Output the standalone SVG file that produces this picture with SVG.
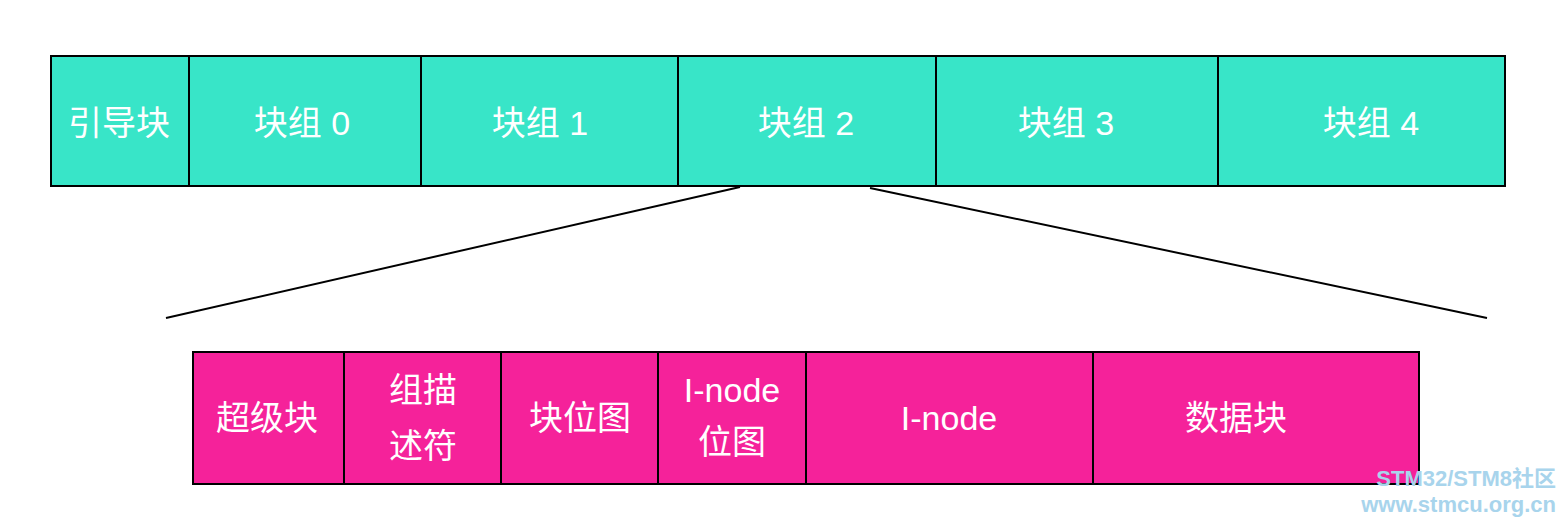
<svg xmlns="http://www.w3.org/2000/svg" width="1568" height="520" viewBox="0 0 1568 520">
<style>
.t{fill:#38e5c8;stroke:#000;stroke-width:2}
.p{fill:#f5229a;stroke:#000;stroke-width:2}
.d{stroke:#000;stroke-width:2}
text{font-family:"Liberation Sans","Noto Sans CJK SC",sans-serif;font-size:34px;fill:#fff;text-anchor:middle;dominant-baseline:central}
.w{font-family:"Liberation Sans","Noto Sans CJK SC",sans-serif;font-weight:bold;fill:#a8d4ec;text-anchor:end;font-size:22px}
</style>
<rect width="1568" height="520" fill="#fff"/>
<g id="top">
<rect class="t" x="51" y="56" width="1454" height="130"/>
<line class="d" x1="189" y1="56" x2="189" y2="186"/>
<line class="d" x1="421" y1="56" x2="421" y2="186"/>
<line class="d" x1="678" y1="56" x2="678" y2="186"/>
<line class="d" x1="936" y1="56" x2="936" y2="186"/>
<line class="d" x1="1218" y1="56" x2="1218" y2="186"/>
</g>
<g id="boot"><text x="119" y="123">引导块</text></g>
<g id="g0"><text x="302" y="123">块组 0</text></g>
<g id="g1"><text x="540" y="123">块组 1</text></g>
<g id="g2"><text x="806" y="123">块组 2</text></g>
<g id="g3"><text x="1066" y="123">块组 3</text></g>
<g id="g4"><text x="1371" y="123">块组 4</text></g>
<g id="connectors">
<line class="d" x1="740" y1="187" x2="166" y2="318"/>
<line class="d" x1="870" y1="188" x2="1487" y2="318"/>
</g>
<g id="bottom">
<rect class="p" x="193" y="352" width="1226" height="132"/>
<line class="d" x1="344" y1="352" x2="344" y2="484"/>
<line class="d" x1="501" y1="352" x2="501" y2="484"/>
<line class="d" x1="658" y1="352" x2="658" y2="484"/>
<line class="d" x1="806" y1="352" x2="806" y2="484"/>
<line class="d" x1="1093" y1="352" x2="1093" y2="484"/>
</g>
<g id="sb"><text x="267" y="418">超级块</text></g>
<g id="gd"><text x="423" y="390">组描</text><text x="423" y="446">述符</text></g>
<g id="bb"><text x="580" y="418">块位图</text></g>
<g id="ib"><text x="732" y="390">I-node</text><text x="732" y="442">位图</text></g>
<g id="in"><text x="949" y="418">I-node</text></g>
<g id="db"><text x="1236" y="418">数据块</text></g>
<text class="w" x="1556" y="478">STM32/STM8社区</text>
<text class="w" x="1556" y="504">www.stmcu.org.cn</text>
</svg>
